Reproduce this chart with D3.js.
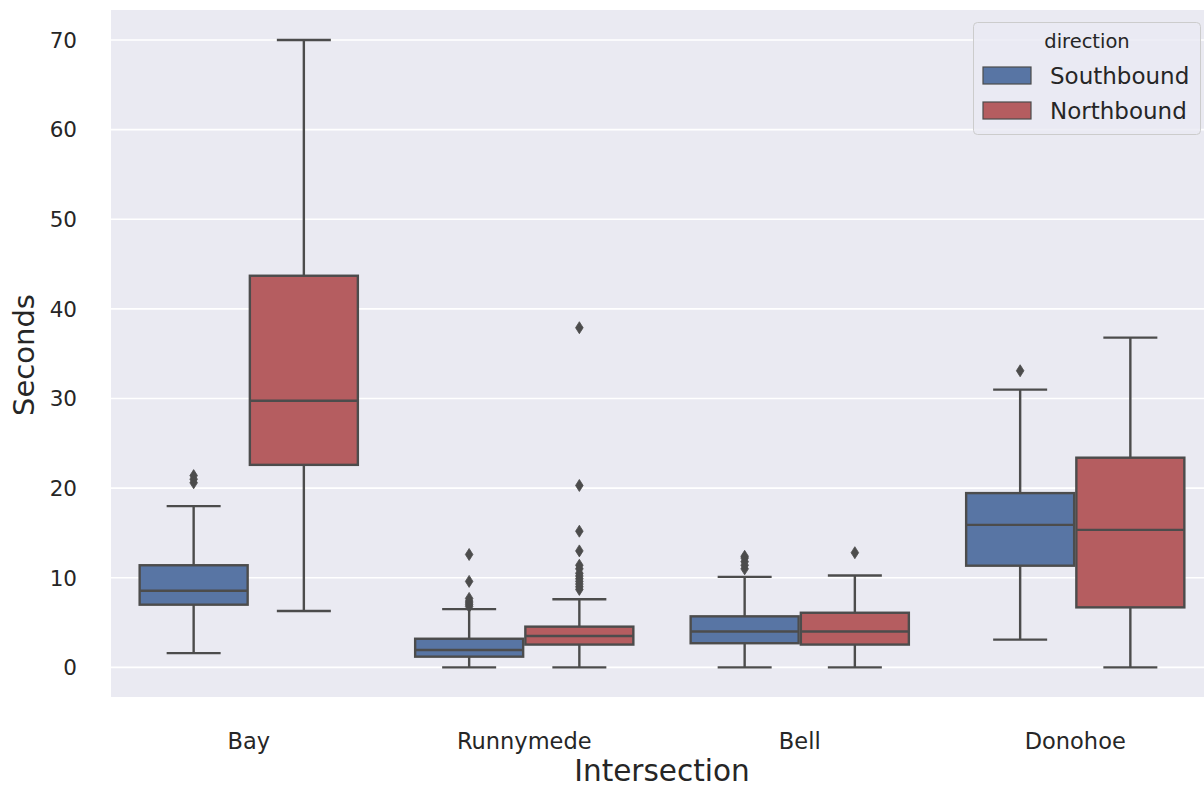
<!DOCTYPE html>
<html>
<head>
<meta charset="utf-8">
<script src="https://cdn.jsdelivr.net/npm/d3@7"></script>
<style>
html,body{margin:0;padding:0;background:#fff;}
svg{display:block;font-family:"DejaVu Sans",sans-serif;}
</style>
</head>
<body>
<svg id="chart" width="1204" height="788"></svg>
<script>
// ---- data ----
const categories = ["Bay", "Runnymede", "Bell", "Donohoe"];
const directions = ["Southbound", "Northbound"];
// [lower whisker, Q1, median, Q3, upper whisker]
const southStats = [
  [1.6, 7.0, 8.55, 11.4, 18.0],
  [0.0, 1.2, 1.95, 3.2, 6.5],
  [0.0, 2.7, 4.0, 5.7, 10.1],
  [3.1, 11.35, 15.9, 19.45, 31.0]
];
const northStats = [
  [6.3, 22.6, 29.75, 43.7, 70.0],
  [0.0, 2.55, 3.5, 4.55, 7.6],
  [0.0, 2.55, 4.0, 6.1, 10.25],
  [0.0, 6.7, 15.35, 23.4, 36.8]
];
const southOutliers = [
  [20.6, 21.0, 21.4],
  [6.8, 7.0, 7.2, 7.4, 7.7, 9.6, 12.6],
  [11.0, 11.4, 11.8, 12.2, 12.4],
  [33.1]
];
const northOutliers = [
  [],
  [8.7, 9.0, 9.3, 9.6, 9.9, 10.2, 10.5, 11.0, 11.4, 13.0, 15.2, 20.3, 37.9],
  [12.8],
  []
];
const yTicks = [0, 10, 20, 30, 40, 50, 60, 70];
const colors = ["#5875a4", "#b55d60"];

// ---- layout ----
const svg = d3.select("#chart");
const plot = {left: 111, top: 10, right: 1213, bottom: 697};
const lineColor = "#4c4c4c";
const textColor = "#262626";

const x = d3.scaleBand().domain(categories).range([plot.left, plot.right]).paddingInner(0).paddingOuter(0);
const xs = d3.scaleBand().domain(directions).range([0, x.bandwidth() * 0.8]);
const y = d3.scaleLinear().domain([-3.3, 73.35]).range([plot.bottom, plot.top]);

// background
svg.append("rect").attr("x", plot.left).attr("y", plot.top)
  .attr("width", plot.right - plot.left).attr("height", plot.bottom - plot.top)
  .attr("fill", "#eaeaf2");

// grid
svg.append("g").selectAll("line").data(yTicks).join("line")
  .attr("x1", plot.left).attr("x2", plot.right)
  .attr("y1", d => y(d)).attr("y2", d => y(d))
  .attr("stroke", "#ffffff").attr("stroke-width", 1.6);

// y ticks
svg.append("g").selectAll("text").data(yTicks).join("text")
  .attr("x", 77).attr("y", d => y(d)).attr("dy", "0.36em")
  .attr("text-anchor", "end").attr("font-size", 21.5).attr("fill", textColor)
  .text(d => d);

// x ticks
svg.append("g").selectAll("text").data(categories).join("text")
  .attr("x", d => x(d) + x.bandwidth() / 2).attr("y", 749)
  .attr("text-anchor", "middle").attr("font-size", 22.5).attr("fill", textColor)
  .text(d => d);

// axis labels
svg.append("text").attr("x", 662).attr("y", 780.5)
  .attr("text-anchor", "middle").attr("font-size", 29.5).attr("fill", textColor)
  .text("Intersection");
svg.append("text").attr("transform", "translate(34," + 355 + ") rotate(-90)")
  .attr("text-anchor", "middle").attr("font-size", 29).attr("fill", textColor)
  .text("Seconds");

// boxes
const series = [southStats, northStats];
const outSeries = [southOutliers, northOutliers];
const g = svg.append("g");
const boxW = xs.bandwidth() * 0.98;
const lw = 2.4;

categories.forEach((cat, ci) => {
  directions.forEach((dir, di) => {
    const s = series[di][ci];
    const cx = x(cat) + x.bandwidth() * 0.1 + xs(dir) + xs.bandwidth() / 2;
    const bg = g.append("g");
    // whiskers
    bg.append("line").attr("x1", cx).attr("x2", cx).attr("y1", y(s[0])).attr("y2", y(s[1]))
      .attr("stroke", lineColor).attr("stroke-width", lw);
    bg.append("line").attr("x1", cx).attr("x2", cx).attr("y1", y(s[3])).attr("y2", y(s[4]))
      .attr("stroke", lineColor).attr("stroke-width", lw);
    // caps
    [s[0], s[4]].forEach(v => {
      bg.append("line").attr("x1", cx - boxW / 4).attr("x2", cx + boxW / 4)
        .attr("y1", y(v)).attr("y2", y(v))
        .attr("stroke", lineColor).attr("stroke-width", lw);
    });
    // box
    bg.append("rect").attr("x", cx - boxW / 2).attr("y", y(s[3]))
      .attr("width", boxW).attr("height", y(s[1]) - y(s[3]))
      .attr("fill", colors[di]).attr("stroke", lineColor).attr("stroke-width", lw);
    // median
    bg.append("line").attr("x1", cx - boxW / 2).attr("x2", cx + boxW / 2)
      .attr("y1", y(s[2])).attr("y2", y(s[2]))
      .attr("stroke", lineColor).attr("stroke-width", lw);
    // outliers (thin diamonds)
    bg.selectAll("path.fl").data(outSeries[di][ci]).join("path")
      .attr("class", "fl")
      .attr("d", v => {
        const py = y(v), hw = 3.8, hh = 6;
        return `M${cx},${py - hh}L${cx + hw},${py}L${cx},${py + hh}L${cx - hw},${py}Z`;
      })
      .attr("fill", lineColor).attr("stroke", lineColor).attr("stroke-width", 0.8);
  });
});

// legend
const lg = svg.append("g");
lg.append("rect").attr("x", 973.5).attr("y", 22.5).attr("width", 227).attr("height", 112)
  .attr("rx", 4).attr("fill", "#eaeaf2").attr("fill-opacity", 0.8)
  .attr("stroke", "#cccccc").attr("stroke-width", 1);
lg.append("text").attr("x", 1087).attr("y", 48).attr("text-anchor", "middle")
  .attr("font-size", 19.5).attr("fill", textColor).text("direction");
directions.forEach((d, i) => {
  const yy = 67 + i * 35;
  lg.append("rect").attr("x", 983).attr("y", yy).attr("width", 48).attr("height", 17)
    .attr("fill", colors[i]).attr("stroke", lineColor).attr("stroke-width", 1.2);
  lg.append("text").attr("x", 1050).attr("y", yy + 16.5)
    .attr("font-size", 23).attr("fill", textColor).text(d);
});
</script>
</body>
</html>
